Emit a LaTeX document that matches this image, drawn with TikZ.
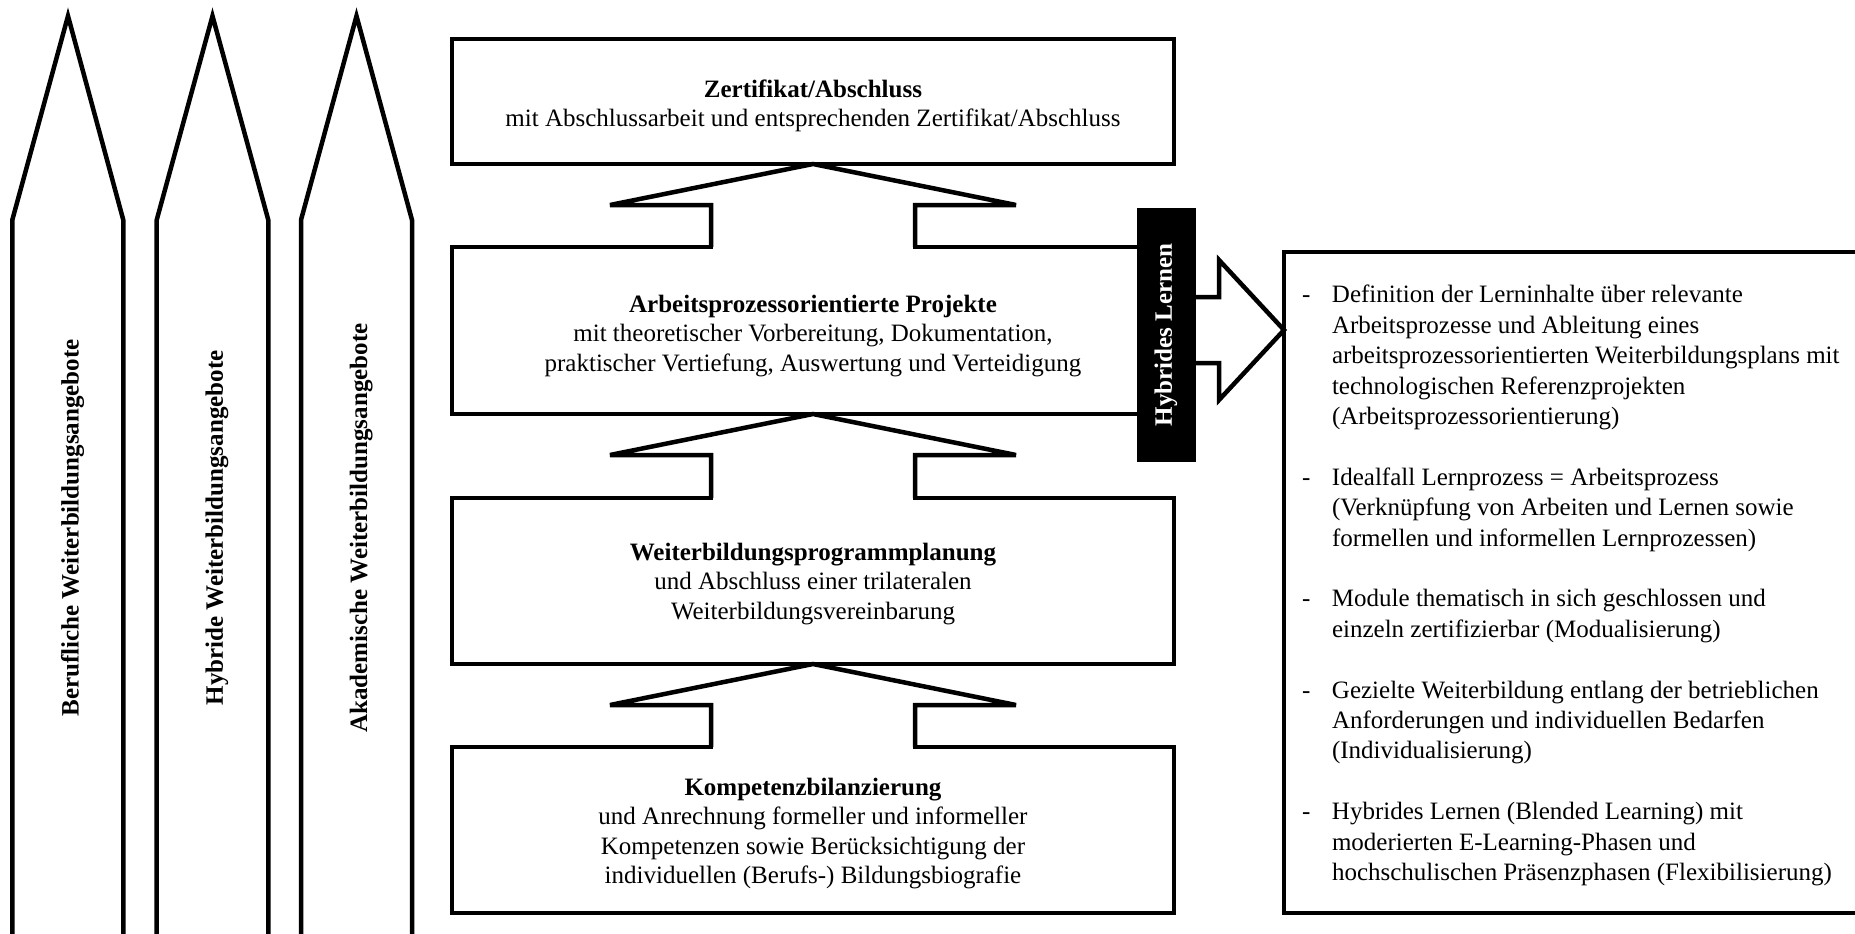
\documentclass[tikz,border=0pt]{standalone}
\usepackage{fontspec}
\setmainfont{Liberation Serif}
\usetikzlibrary{calc}
\begin{document}
\begin{tikzpicture}[x=1pt,y=-1pt,
  every node/.style={inner sep=0pt, outer sep=0pt},
  outline/.style={draw=black, line width=4.5pt},
  stage/.style={outline, minimum width=722pt},
  lbl/.style={font=\fontsize{25}{29.5}\selectfont, align=center, anchor=north},
  side/.style={font=\fontsize{25}{30}\selectfont\bfseries, rotate=90, anchor=base},
]
\useasboundingbox (0,0) rectangle (1855,934);
\clip (0,0) rectangle (1855,934);

% left upward arrows
\draw[outline] (12.3,950) -- (12.3,220) -- (68,16) -- (123.3,220) -- (123.3,950);
\draw[outline] (156.7,950) -- (156.7,220) -- (212.5,16) -- (268.3,220) -- (268.3,950);
\draw[outline] (301,950) -- (301,220) -- (356.5,16) -- (412,220) -- (412,950);
\node[side] (s1) at (78.5,528) {Berufliche Weiterbildungsangebote};
\node[side] (s2) at (222.8,528) {Hybride Weiterbildungsangebote};
\node[side] (s3) at (367,528) {Akademische Weiterbildungsangebote};

% central stages
\node[stage, minimum height=125pt] (b1) at (813,101.5) {};
\node[stage, minimum height=167pt] (b2) at (813,330.5) {};
\node[stage, minimum height=166pt] (b3) at (813,581) {};
\node[stage, minimum height=166pt] (b4) at (813,830) {};

\foreach \a/\b in {b1/b2, b2/b3, b3/b4} {
  \fill[white] ($(\b.north)+(-99.75,-2.6)$) rectangle ($(\b.north)+(99.75,2.6)$);
  \draw[outline] ($(\b.north)+(-102,0)$) -- ($(\a.south)+(-102,41)$) -- ($(\a.south)+(-203,41)$)
    -- (\a.south) -- ($(\a.south)+(203,41)$) -- ($(\a.south)+(102,41)$) -- ($(\b.north)+(102,0)$);
}

\node[lbl] (t1) at (813,76.35) {\strut\textbf{Zertifikat/Abschluss}\\mit Abschlussarbeit und entsprechenden Zertifikat/Abschluss};
\node[lbl] (t2) at (813,291.35) {\strut\textbf{Arbeitsprozessorientierte Projekte}\\mit theoretischer Vorbereitung, Dokumentation,\\praktischer Vertiefung, Auswertung und Verteidigung};
\node[lbl] (t3) at (813,539.35) {\strut\textbf{Weiterbildungsprogrammplanung}\\und Abschluss einer trilateralen\\Weiterbildungsvereinbarung};
\node[lbl] (t4) at (813,774.35) {\strut\textbf{Kompetenzbilanzierung}\\und Anrechnung formeller und informeller\\Kompetenzen sowie Berücksichtigung der\\individuellen (Berufs-) Bildungsbiografie};

% right box
\node[outline, minimum width=700pt, minimum height=661pt, anchor=north west] (rb) at (1284,252) {};
\coordinate (tipR) at (1284,330);
\draw[outline, fill=white] (1190,297) -- (1219,297) -- (1219,260) -- (tipR) -- (1219,400) -- (1219,363) -- (1190,363);

% Hybrides Lernen bar
\node[fill=black, minimum width=254pt, minimum height=59pt, rotate=90, text=white,
      font=\fontsize{25}{30}\selectfont\bfseries] (hl) at (1166,335) {Hybrides Lernen};

\node[anchor=north west, font=\fontsize{25}{30.4}\selectfont] (rt) at (1302,281.7) {%
\begin{tabular}{@{}l@{}l@{}}
\makebox[30pt][l]{-} & Definition der Lerninhalte über relevante\\
 & Arbeitsprozesse und Ableitung eines\\
 & arbeitsprozessorientierten Weiterbildungsplans mit\\
 & technologischen Referenzprojekten\\
 & (Arbeitsprozessorientierung)\\
 & \\
\makebox[30pt][l]{-} & Idealfall Lernprozess = Arbeitsprozess\\
 & (Verknüpfung von Arbeiten und Lernen sowie\\
 & formellen und informellen Lernprozessen)\\
 & \\
\makebox[30pt][l]{-} & Module thematisch in sich geschlossen und\\
 & einzeln zertifizierbar (Modualisierung)\\
 & \\
\makebox[30pt][l]{-} & Gezielte Weiterbildung entlang der betrieblichen\\
 & Anforderungen und individuellen Bedarfen\\
 & (Individualisierung)\\
 & \\
\makebox[30pt][l]{-} & Hybrides Lernen (Blended Learning) mit\\
 & moderierten E-Learning-Phasen und\\
 & hochschulischen Präsenzphasen (Flexibilisierung)
\end{tabular}};
\end{tikzpicture}
\end{document}
